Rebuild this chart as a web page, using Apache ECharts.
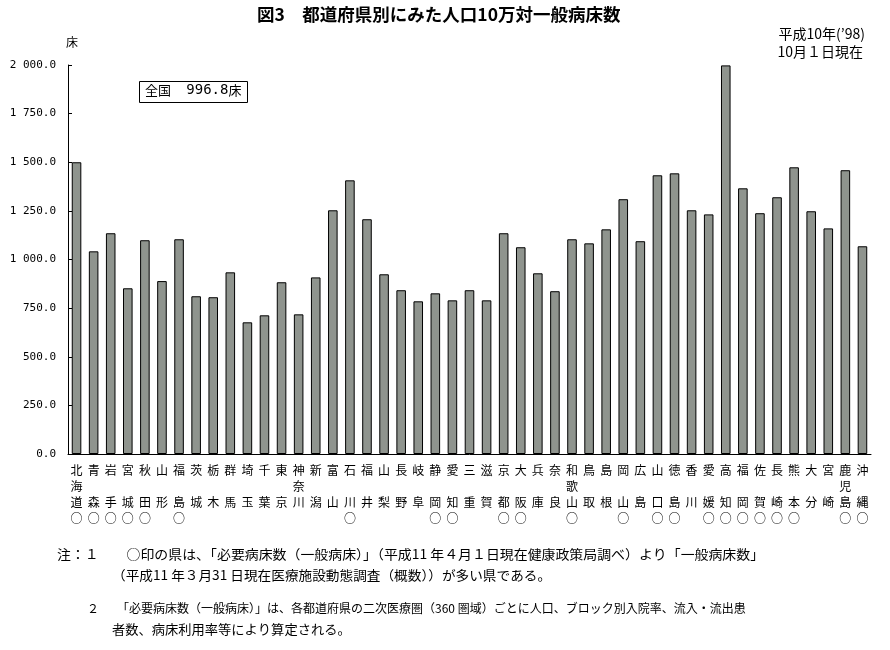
<!DOCTYPE html>
<html><head><meta charset="utf-8">
<script src="https://cdn.jsdelivr.net/npm/echarts@6/dist/echarts.min.js"></script>
<style>html,body{margin:0;padding:0;background:#fff}#c{width:890px;height:650px}</style>
</head><body><div id="c"></div>
<script>
const prefectures = ['北海道','青森','岩手','宮城','秋田','山形','福島','茨城','栃木','群馬','埼玉','千葉','東京','神奈川','新潟','富山','石川','福井','山梨','長野','岐阜','静岡','愛知','三重','滋賀','京都','大阪','兵庫','奈良','和歌山','鳥取','島根','岡山','広島','山口','徳島','香川','愛媛','高知','福岡','佐賀','長崎','熊本','大分','宮崎','鹿児島','沖縄'];
const bedsPer100k = [1500,1042,1135,852,1099,889,1104,811,806,934,677,713,883,718,908,1253,1407,1207,924,842,785,826,790,842,790,1135,1063,929,837,1104,1083,1155,1310,1094,1433,1443,1253,1232,1998,1366,1238,1320,1474,1248,1160,1459,1068];
const marked = ['北海道','青森','岩手','宮城','秋田','福島','石川','静岡','愛知','京都','大阪','和歌山','岡山','山口','徳島','愛媛','高知','福岡','佐賀','長崎','熊本','鹿児島','沖縄'];
const nationalName = '全国';
const nationalValue = '996.8';
const nationalUnit = '床';
const titleText = '図3　都道府県別にみた人口10万対一般病床数';
const dateLines = ['平成10年(’98)', '10月１日現在'];
const unitText = '床';
const notes = [
  '注：１　　○印の県は、「必要病床数（一般病床）」（平成11 年４月１日現在健康政策局調べ）より「一般病床数」',
  '（平成11 年３月31 日現在医療施設動態調査（概数））が多い県である。',
  '２　　「必要病床数（一般病床）」は、各都道府県の二次医療圏（360 圏域）ごとに人口、ブロック別入院率、流入・流出患',
  '者数、病床利用率等により算定される。'
];

const FONT = '"Noto Sans CJK JP", "Noto Sans", sans-serif';
const MONO = '"DejaVu Sans Mono", "Liberation Mono", monospace';
function vLabel(name) {
  const ch = name.split('');
  let lines = ch.length === 3 ? ch : [ch[0], '　', ch[1]];
  lines.push(marked.includes(name) ? '○' : '　');
  return lines.join('\n');
}
function fmtY(v) {
  const s = v.toFixed(1);
  const [i, d] = s.split('.');
  const ii = i.length > 3 ? i.slice(0, i.length - 3) + ' ' + i.slice(-3) : i;
  return ii + '.' + d;
}

const chart = echarts.init(document.getElementById('c'));
chart.setOption({
  animation: false,
  backgroundColor: '#fff',
  grid: { left: 68, right: 19, top: 65, bottom: 196, containLabel: false },
  xAxis: {
    type: 'category',
    data: prefectures,
    axisLine: { lineStyle: { color: '#000', width: 1 } },
    axisTick: { inside: true, length: 4, lineStyle: { color: '#000' } },
    axisLabel: {
      interval: 0, fontSize: 12, lineHeight: 16, color: '#000', fontFamily: FONT,
      margin: 8, formatter: (v) => vLabel(v)
    }
  },
  yAxis: {
    type: 'value', min: 0, max: 2000, interval: 250,
    axisLine: { show: true, lineStyle: { color: '#000', width: 1 } },
    axisTick: { show: true, inside: true, length: 4, lineStyle: { color: '#000' } },
    splitLine: { show: false },
    axisLabel: { fontSize: 11, color: '#000', fontFamily: MONO, margin: 12, formatter: fmtY }
  },
  series: [{
    type: 'bar',
    data: bedsPer100k,
    barWidth: '56%',
    itemStyle: { color: '#8f948e', borderColor: '#000', borderWidth: 1 }
  }],
  graphic: [
    { type: 'text', left: 257, top: 6, style: { text: titleText, font: 'bold 17.5px ' + FONT, fill: '#000' } },
    { type: 'text', right: 25, top: 27, style: { text: dateLines[0], font: '14px ' + FONT, fill: '#000' } },
    { type: 'text', right: 27, top: 45, style: { text: dateLines[1], font: '14px ' + FONT, fill: '#000' } },
    { type: 'text', left: 66, top: 36, style: { text: unitText, font: '12px ' + FONT, fill: '#000' } },
    { type: 'rect', shape: { x: 139.5, y: 81.5, width: 108, height: 21 }, style: { fill: '#fff', stroke: '#000', lineWidth: 1 } },
    { type: 'text', left: 145, top: 83, style: {
        text: '{a|' + nationalName + '}　 {b|' + nationalValue + '}{a|' + nationalUnit + '}',
        rich: { a: { fontFamily: FONT, fontSize: 13, fill: '#000', color: '#000' },
                b: { fontFamily: MONO, fontSize: 14, fill: '#000', color: '#000' } },
        fill: '#000' } },
    { type: 'text', left: 57, top: 548, scaleX: 1.07, style: { text: notes[0], font: '13px ' + FONT, fill: '#000' } },
    { type: 'text', left: 112, top: 569, scaleX: 1.05, style: { text: notes[1], font: '13px ' + FONT, fill: '#000' } },
    { type: 'text', left: 87, top: 602, style: { text: notes[2], font: '12px ' + FONT, fill: '#000' } },
    { type: 'text', left: 112, top: 623, scaleX: 1.02, style: { text: notes[3], font: '13px ' + FONT, fill: '#000' } }
  ]
});
</script></body></html>
